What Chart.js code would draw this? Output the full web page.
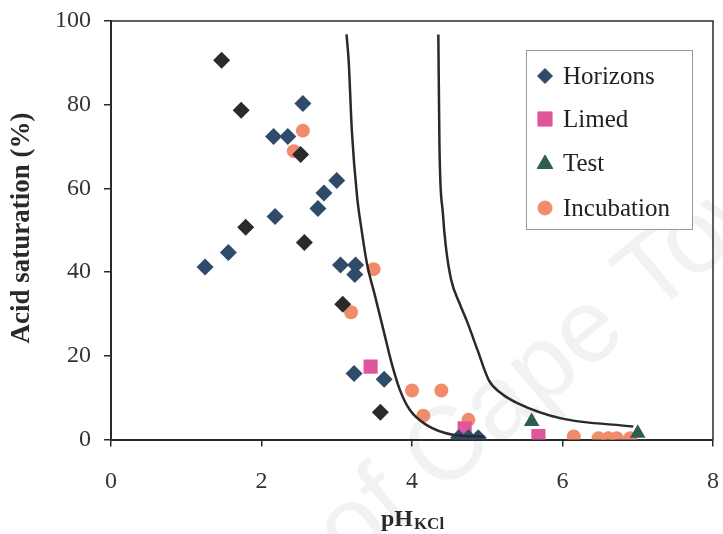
<!DOCTYPE html>
<html>
<head>
<meta charset="utf-8">
<script src="https://cdn.jsdelivr.net/npm/chart.js@4.4.1/dist/chart.umd.min.js"></script>
<style>
html,body{margin:0;padding:0;background:#fff;}
#wrap{width:723px;height:534px;}
</style>
</head>
<body>
<div id="wrap"><canvas id="c" width="723" height="534"></canvas></div>
<script>
// ---- data ----
const xTicks = [0, 2, 4, 6, 8];
const yTicks = [0, 20, 40, 60, 80, 100];

const horizonsX = [2.55, 2.16, 2.35, 3.00, 2.83, 2.75, 2.18, 1.56, 1.25, 3.05, 3.25, 3.24, 3.23, 3.63, 4.62, 4.75, 4.88];
const horizonsY = [80.3, 72.4, 72.4, 61.9, 58.9, 55.2, 53.3, 44.7, 41.2, 41.7, 41.7, 39.4, 15.8, 14.4, 0.4, 0.4, 0.4];

const darkX = [1.47, 1.73, 1.79, 2.52, 2.57, 3.08, 3.58];
const darkY = [90.6, 78.7, 50.7, 68.1, 47.1, 32.3, 6.5];

const limedX = [3.45, 4.70, 5.68];
const limedY = [17.4, 2.7, 0.8];

const testX = [5.59, 7.00];
const testY = [4.3, 1.5];

const incubationX = [2.55, 2.43, 3.49, 3.19, 4.00, 4.39, 4.15, 4.75, 6.15, 6.48, 6.61, 6.72, 6.90];
const incubationY = [73.8, 68.9, 40.7, 30.4, 11.7, 11.7, 5.7, 4.7, 0.7, 0.3, 0.3, 0.3, 0.3];

const curve1X = [3.13, 3.16, 3.20, 3.27, 3.33, 3.40, 3.51, 3.62, 3.73, 3.84, 3.97, 4.19, 4.56, 4.96];
const curve1Y = [96.8, 90.0, 74.0, 58.1, 50.1, 42.2, 34.2, 26.2, 18.2, 11.8, 7.1, 3.5, 1.1, 0.7];

const curve2X = [4.35, 4.365, 4.41, 4.45, 4.52, 4.63, 4.74, 4.87, 5.02, 5.18, 5.40, 5.97, 6.94];
const curve2Y = [96.8, 70.0, 54.1, 46.1, 38.2, 32.6, 27.8, 21.4, 14.2, 11.1, 8.7, 5.1, 3.1];

const legendLabels = ['Horizons', 'Limed', 'Test', 'Incubation'];

function pts(xs, ys) { return xs.map((x, i) => ({ x: x, y: ys[i] })); }

const C_NAVY = '#304b6a', C_DARK = '#2a2a2a', C_PINK = '#e0569b', C_TEST = '#2e5d52', C_INC = '#f08b6c';

const SERIF = '"Liberation Serif", "Times New Roman", serif';

const framePlugin = {
  id: 'frame',
  beforeDraw(chart) {
    const ctx = chart.ctx;
    ctx.save();
    ctx.fillStyle = '#fff';
    ctx.fillRect(0, 0, chart.width, chart.height);
    // faint scan watermark
    ctx.translate(350, 570);
    ctx.rotate(-40 * Math.PI / 180);
    ctx.font = '104px "Liberation Sans", Arial, sans-serif';
    ctx.fillStyle = '#f2f2f2';
    ctx.fillText('of Cape Town', 0, 0);
    ctx.restore();
  },
  afterDatasetsDraw(chart) {
    const ctx = chart.ctx;
    const a = chart.chartArea;
    ctx.save();
    ctx.strokeStyle = '#2a2a2a';
    ctx.lineWidth = 1.5;
    ctx.beginPath();
    ctx.moveTo(a.left, a.top); ctx.lineTo(a.right, a.top); ctx.lineTo(a.right, a.bottom);
    ctx.stroke();

    // legend
    const bx = 526, by = 50, bw = 166, bh = 179;
    ctx.fillStyle = '#fff';
    ctx.fillRect(bx, by, bw, bh);
    ctx.strokeStyle = '#9a9a9a';
    ctx.lineWidth = 1;
    ctx.strokeRect(bx + 0.5, by + 0.5, bw, bh);
    const rows = [76, 119, 163, 208];
    const styles = [
      { s: 'rectRot', c: C_NAVY, r: 7.5 },
      { s: 'rect', c: C_PINK, r: 10 },
      { s: 'triangle', c: C_TEST, r: 9 },
      { s: 'circle', c: C_INC, r: 7 }
    ];
    ctx.font = '25px ' + SERIF;
    ctx.textBaseline = 'middle';
    ctx.textAlign = 'left';
    rows.forEach((yy, i) => {
      const st = styles[i];
      ctx.fillStyle = st.c;
      ctx.strokeStyle = st.c;
      ctx.lineWidth = 1;
      Chart.helpers.drawPoint(ctx, { pointStyle: st.s, radius: st.r, rotation: 0, borderWidth: 1 }, 545, yy + (st.s === 'triangle' ? 1 : 0));
      ctx.fillStyle = '#222';
      ctx.fillText(legendLabels[i], 563, yy + 1);
    });

    // axis titles
    ctx.fillStyle = '#2a2a2a';
    ctx.textBaseline = 'alphabetic';
    const t1 = 'pH';
    ctx.font = 'bold 24px ' + SERIF;
    const w1 = ctx.measureText(t1).width;
    ctx.font = 'bold 17px ' + SERIF;
    const w2 = ctx.measureText('KCl').width;
    const cx = (a.left + a.right) / 2;
    const sx = cx - (w1 + w2) / 2;
    ctx.font = 'bold 24px ' + SERIF;
    ctx.fillText(t1, sx, 526);
    ctx.font = 'bold 17px ' + SERIF;
    ctx.fillText('KCl', sx + w1 + 1, 529);

    ctx.save();
    ctx.translate(29, 228);
    ctx.rotate(-Math.PI / 2);
    ctx.font = 'bold 27px ' + SERIF;
    ctx.textAlign = 'center';
    ctx.fillText('Acid saturation (%)', 0, 0);
    ctx.restore();
    ctx.restore();
  }
};

const scatterBase = { showLine: false, borderWidth: 0 };

function noPad(s) { s.paddingTop = 0; s.paddingBottom = 0; s.paddingLeft = 0; s.paddingRight = 0; }

new Chart(document.getElementById('c'), {
  type: 'scatter',
  data: {
    datasets: [
      { label: 'curve1', data: pts(curve1X, curve1Y), showLine: true, borderColor: '#2a2a2a', borderWidth: 2.5, pointRadius: 0, cubicInterpolationMode: 'monotone', fill: false },
      { label: 'curve2', data: pts(curve2X, curve2Y), showLine: true, borderColor: '#2a2a2a', borderWidth: 2.5, pointRadius: 0, cubicInterpolationMode: 'monotone', fill: false },
      Object.assign({ label: 'dark', data: pts(darkX, darkY), pointStyle: 'rectRot', pointRadius: 8.5, backgroundColor: C_DARK, borderColor: C_DARK }, scatterBase),
      Object.assign({ label: legendLabels[0], data: pts(horizonsX, horizonsY), pointStyle: 'rectRot', pointRadius: 8.5, backgroundColor: C_NAVY, borderColor: C_NAVY }, scatterBase),
      Object.assign({ label: legendLabels[1], data: pts(limedX, limedY), pointStyle: 'rect', pointRadius: 10, backgroundColor: C_PINK, borderColor: C_PINK }, scatterBase),
      Object.assign({ label: legendLabels[2], data: pts(testX, testY), pointStyle: 'triangle', pointRadius: 9, backgroundColor: C_TEST, borderColor: C_TEST }, scatterBase),
      Object.assign({ label: legendLabels[3], data: pts(incubationX, incubationY), pointStyle: 'circle', pointRadius: 7, backgroundColor: C_INC, borderColor: C_INC }, scatterBase)
    ]
  },
  options: {
    responsive: false,
    animation: false,
    devicePixelRatio: 1,
    layout: { padding: { top: 21, right: 6, left: 0, bottom: 0 } },
    plugins: { legend: { display: false }, tooltip: { enabled: false } },
    scales: {
      x: {
        type: 'linear', min: 0, max: 8,
        afterBuildTicks(s) { s.ticks = xTicks.map(v => ({ value: v })); },
        afterFit(s) { s.height = 94.5; noPad(s); },
        ticks: { font: { family: SERIF, size: 24 }, color: '#333', padding: 21 },
        grid: { drawOnChartArea: false, drawTicks: true, tickLength: 7, color: '#2a2a2a', lineWidth: 1.5 },
        border: { display: true, color: '#2a2a2a', width: 2 }
      },
      y: {
        type: 'linear', min: 0, max: 100,
        afterBuildTicks(s) { s.ticks = yTicks.map(v => ({ value: v })); },
        afterFit(s) { s.width = 111; noPad(s); },
        ticks: { font: { family: SERIF, size: 24 }, color: '#333', padding: 13 },
        grid: { drawOnChartArea: false, drawTicks: true, tickLength: 7, color: '#2a2a2a', lineWidth: 1.5 },
        border: { display: true, color: '#2a2a2a', width: 2 }
      }
    }
  },
  plugins: [framePlugin]
});
</script>
</body>
</html>
